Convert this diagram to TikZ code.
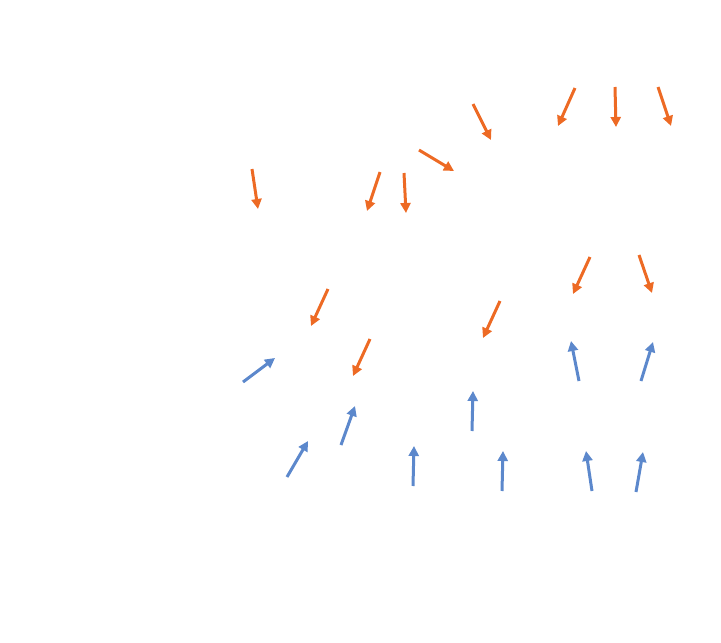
\documentclass[tikz,border=0pt]{standalone}
\usetikzlibrary{arrows.meta}
\definecolor{vorange}{RGB}{237,106,36}
\definecolor{vblue}{RGB}{92,136,204}
\tikzset{
  vec/.style={line width=3pt,-{Triangle[length=10pt,width=10pt]}},
  down/.style={vec,draw=vorange,fill=vorange},
  up/.style={vec,draw=vblue,fill=vblue}
}
\begin{document}
\begin{tikzpicture}[x=1pt,y=-1pt]
\useasboundingbox (0,0) rectangle (721,643);
% orange vectors
\foreach \ax/\ay/\bx/\by in {
  252/169/258/209, 380/172/367/211, 404/173/406/213, 419/150/454/171,
  473/104/491/140, 575/88/558/126, 615/87/616/127, 658/87/671/126,
  590/257/573/294, 639/255/652/293, 328/289/311/326, 500/301/483/338,
  370/339/353/376}
  \draw[down] (\ax,\ay) -- (\bx,\by);
% blue vectors
\foreach \ax/\ay/\bx/\by in {
  243/382/275/358, 341/445/355/406, 287/477/308/441, 413/486/414/446,
  472/431/473/391, 502/491/503/451, 579/381/571/341, 641/381/653/342,
  592/491/586/451, 636/492/643/452}
  \draw[up] (\ax,\ay) -- (\bx,\by);
\end{tikzpicture}
\end{document}
